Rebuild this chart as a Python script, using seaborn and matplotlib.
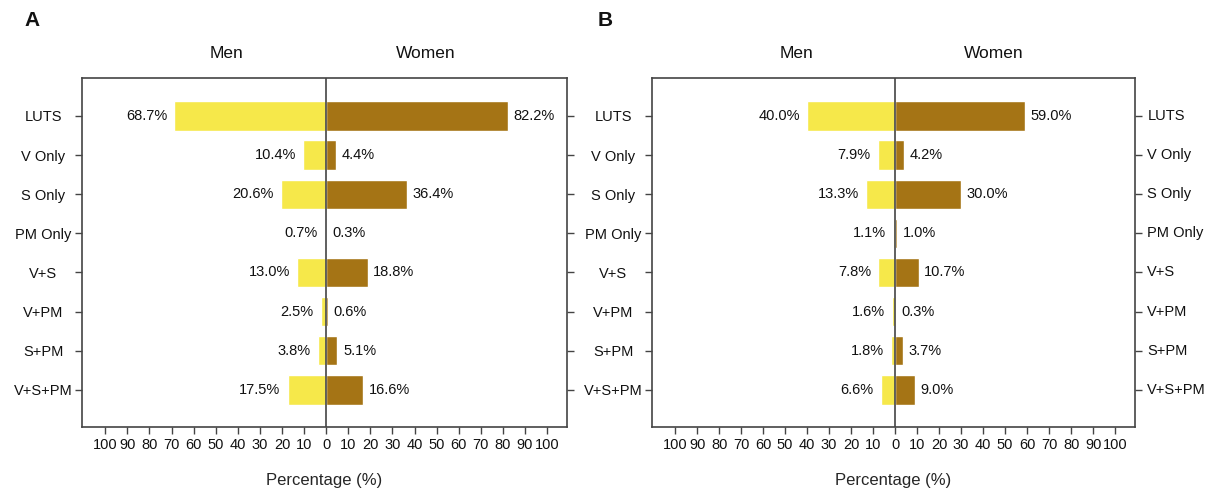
import numpy as np
import pandas as pd
import matplotlib
matplotlib.use("Agg")
import matplotlib.pyplot as plt
import seaborn as sns

categories = ["LUTS", "V Only", "S Only", "PM Only", "V+S", "V+PM", "S+PM", "V+S+PM"]
men_a = [68.7, 10.4, 20.6, 0.7, 13.0, 2.5, 3.8, 17.5]
women_a = [82.2, 4.4, 36.4, 0.3, 18.8, 0.6, 5.1, 16.6]
men_b = [40.0, 7.9, 13.3, 1.1, 7.8, 1.6, 1.8, 6.6]
women_b = [59.0, 4.2, 30.0, 1.0, 10.7, 0.3, 3.7, 9.0]
tick_vals = list(range(-100, 101, 10))
tick_labels = [str(abs(v)) for v in tick_vals]

sns.set_theme(style="white")
plt.rcParams["font.family"] = ["Liberation Sans", "DejaVu Sans"]
plt.rcParams["text.color"] = "#111111"
plt.rcParams["xtick.color"] = "#111111"
plt.rcParams["ytick.color"] = "#111111"

YELLOW = "#F6E84A"
BROWN = "#A57415"
EDGE = "#444444"
FS = 10.5

fig = plt.figure(figsize=(12.08, 4.92), dpi=100)
axA = fig.add_axes([0.0679, 0.132, 0.4015, 0.7094])
axB = fig.add_axes([0.5397, 0.132, 0.3998, 0.7094])


def panel(ax, men, women, letter, right_labels, letter_x):
    df = pd.DataFrame({"cat": categories, "men": [-m for m in men], "women": women})
    sns.barplot(data=df, x="men", y="cat", color=YELLOW, orient="h", width=0.75,
                ax=ax, saturation=1, order=categories)
    sns.barplot(data=df, x="women", y="cat", color=BROWN, orient="h", width=0.75,
                ax=ax, saturation=1, order=categories)
    c_men, c_women = ax.containers[0], ax.containers[1]
    ax.bar_label(c_men, labels=[f"{m:.1f}%" for m in men], padding=5, fontsize=FS)
    ax.bar_label(c_women, labels=[f"{w:.1f}%" for w in women], padding=4, fontsize=FS)
    ax.axvline(0, color="#444444", lw=1.2, zorder=5)
    ax.set_xlim(-110.5, 109)
    ax.set_ylim(7.95, -0.97)
    ax.set_xticks(tick_vals)
    ax.set_xticklabels(tick_labels, fontsize=FS)
    ax.set_xlabel("Percentage (%)", fontsize=12, labelpad=15)
    ax.set_ylabel("")
    ax.tick_params(axis="x", direction="out", length=5, width=1, color=EDGE,
                   bottom=True, pad=3)
    ax.tick_params(axis="y", direction="out", length=5, width=1, color=EDGE,
                   left=True, right=True, labelleft=True, labelright=False,
                   labelsize=FS, pad=23)
    for t in ax.get_yticklabels():
        t.set_ha("center")
    if right_labels:
        for yv, cat in enumerate(categories):
            ax.annotate(cat, xy=(1, yv), xycoords=("axes fraction", "data"),
                        xytext=(9, 0), textcoords="offset points",
                        ha="left", va="center", fontsize=FS)
    for s in ax.spines.values():
        s.set_color(EDGE)
        s.set_linewidth(1.2)
    ax.text(-45, 1.07, "Men", transform=ax.get_xaxis_transform(),
            ha="center", va="center", fontsize=12.5)
    ax.text(45, 1.07, "Women", transform=ax.get_xaxis_transform(),
            ha="center", va="center", fontsize=12.5)
    ax.text(letter_x, 1.165, letter, transform=ax.transAxes, fontsize=15,
            fontweight="bold", ha="left", va="center")


panel(axA, men_a, women_a, "A", False, -0.118)
panel(axB, men_b, women_b, "B", True, -0.112)

fig.savefig("out.png", dpi=100)
